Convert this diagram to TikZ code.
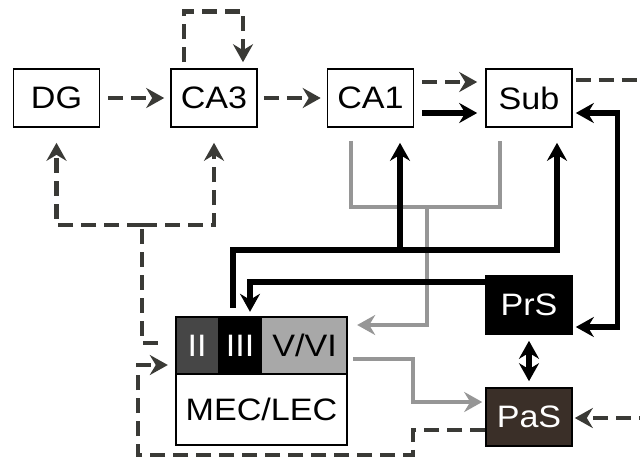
\documentclass[tikz,border=0pt]{standalone}
\usepackage{fontspec}
\setmainfont{Liberation Sans}[FakeStretch=1.1]
\usetikzlibrary{arrows.meta}
\definecolor{dashcol}{RGB}{58,58,54}
\definecolor{graycol}{RGB}{150,150,150}
\definecolor{IIcol}{RGB}{70,70,70}
\definecolor{VVIcol}{RGB}{168,168,168}
\definecolor{pascol}{RGB}{58,47,40}
\begin{document}
\begin{tikzpicture}[x=1pt,y=-1pt,
  >={Stealth[length=18pt,width=20pt,inset=6pt]},
  box/.style={draw, line width=1.6pt, minimum width=86pt, minimum height=58pt, inner sep=0pt, fill=white, font=\fontsize{31}{32}\selectfont},
  layer/.style={minimum height=57pt, inner sep=0pt, font=\fontsize{31}{32}\selectfont},
  dashline/.style={draw=dashcol, line width=4.8pt, dash pattern=on 15pt off 8pt},
  blk/.style={draw=black, line width=5.2pt},
  gry/.style={draw=graycol, line width=3.8pt}]
\useasboundingbox (0,0) rectangle (640,459);
\fill[white] (0,0) rectangle (640,459);
% boxes
\node[box] (DG) at (56.5,98) {DG};
\node[box] (CA3) at (214,98) {CA3};
\node[box] (CA1) at (370.5,98) {CA1};
\node[box] (Sub) at (529,98) {Sub};
\node[box, fill=black, text=white] (PrS) at (529,305) {PrS};
\node[box, fill=pascol, text=white] (PaS) at (529,417) {PaS};
% entorhinal cortex
\node[layer, fill=IIcol, text=white, minimum width=42pt] (II) at (197,345.5) {II};
\node[layer, fill=black, text=white, minimum width=44pt] (III) at (240,345.5) {III};
\node[layer, fill=VVIcol, text=black, minimum width=85pt] (VVI) at (304.5,345.5) {V/VI};
\node[layer, fill=white, minimum width=171pt, minimum height=71pt] (MEC) at (261.5,409.5) {MEC/LEC};
\draw[line width=1.6pt] (II.north west) rectangle (MEC.south east);
\draw[line width=1.6pt] (II.south west) -- (VVI.south east);
% bend coordinates
\coordinate (gj) at (427,207);
\coordinate (bh) at (557,250);
\coordinate (cj) at (400,250);
\coordinate (g2) at (413,402);
\coordinate (d1) at (413,455);
\coordinate (d2) at (138,455);
\coordinate (e1) at (142,225);
% dashed trisynaptic
\draw[dashline,->] ([xshift=-30pt,yshift=6pt]CA3.north) -- ++(0,-51) -| ([xshift=29pt,yshift=6pt]CA3.north);
\draw[dashline,->] ([xshift=8pt]DG.east) -- ([xshift=-6pt]CA3.west);
\draw[dashline,->] ([xshift=6pt]CA3.east) -- ([xshift=-6pt]CA1.west);
\draw[dashline,->] ([xshift=8pt,yshift=16pt]CA1.east) -- ([xshift=-8pt,yshift=16pt]Sub.west);
\draw[blk,->] ([xshift=8pt,yshift=-15pt]CA1.east) -- ([xshift=-8pt,yshift=-15pt]Sub.west);
\begin{scope}
\clip (0,0) rectangle (640,459);
\draw[dashline,->] ([xshift=3pt,yshift=18pt]Sub.east) -- ++(100,0) |- ([xshift=2pt,yshift=-1pt]PaS.east);
\end{scope}
% PrS <-> Sub
\draw[blk,<->] ([xshift=3pt,yshift=-22pt]PrS.east) -- ++(42,0) |- ([xshift=3pt,yshift=-15pt]Sub.east);
% gray CA1/Sub -> V/VI
\draw[gry] ([xshift=-19.5pt,yshift=-13pt]CA1.south) |- (gj) -| ([xshift=-29pt,yshift=-13pt]Sub.south);
\draw[gry,->] (gj) |- ([xshift=10pt,yshift=20.5pt]VVI.east);
% III -> CA1, Sub
\draw[blk,->] ([xshift=-7pt,yshift=9pt]III.north) |- (bh) -- ([xshift=28pt,yshift=-15pt]Sub.south);
\draw[blk,->] (cj) -- ([xshift=29.5pt,yshift=-15pt]CA1.south);
% PrS -> III
\draw[blk,->] ([yshift=23pt]PrS.west) -| ([xshift=10pt,yshift=5pt]III.north);
% PrS <-> PaS
\draw[blk,<->] ([yshift=-6pt]PrS.south) -- ([yshift=6pt]PaS.north);
% V/VI -> PaS
\draw[gry,->] ([xshift=6pt,yshift=-13.5pt]VVI.east) -| (g2) -- ([xshift=-3pt,yshift=15pt]PaS.west);
% PaS -> II
\draw[dashline,->] ([yshift=-13pt]PaS.west) -| (d1) -- (d2) |- ([xshift=-8pt,yshift=-19.5pt]II.west);
% II -> DG, CA3
\draw[dashline] ([xshift=-18pt,yshift=2.5pt]II.west) -| (e1);
\draw[dashline,->] (e1) -| ([yshift=-15pt]DG.south);
\draw[dashline,->] (e1) -| ([yshift=-15pt]CA3.south);
\end{tikzpicture}
\end{document}
